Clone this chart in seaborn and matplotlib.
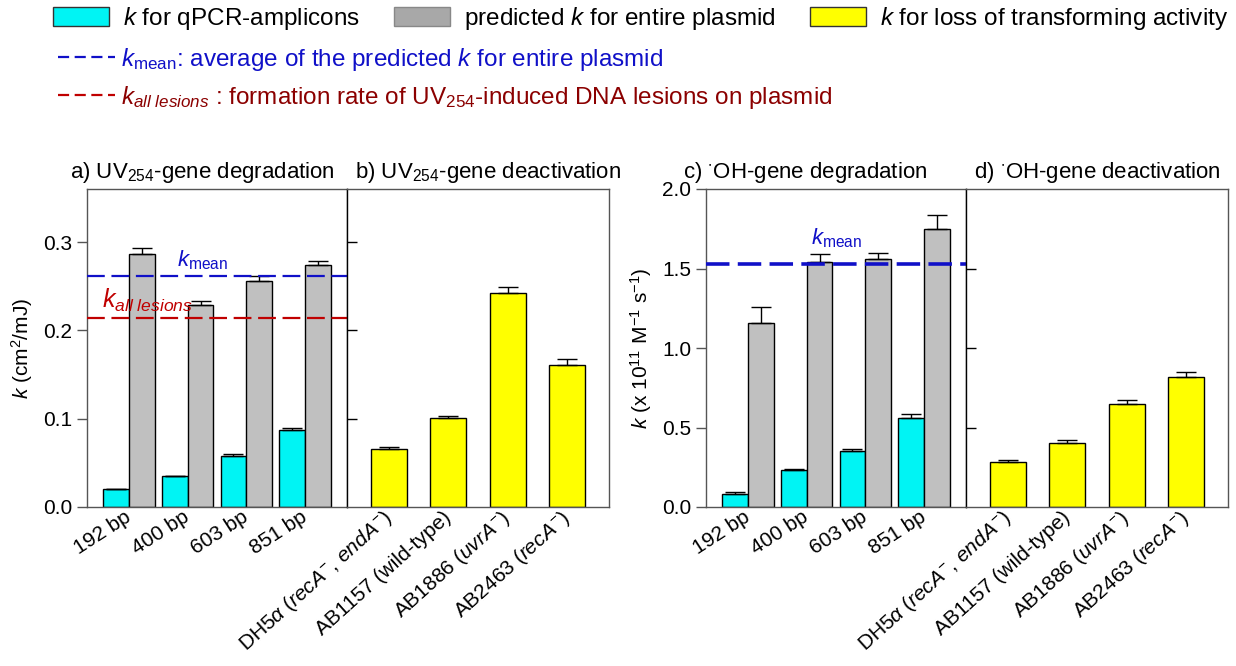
import numpy as np
import pandas as pd
import matplotlib
matplotlib.use("Agg")
import matplotlib.pyplot as plt
from matplotlib.patches import Patch
from matplotlib.lines import Line2D
import seaborn as sns

sns.set_theme(style="ticks")
plt.rcParams['font.family'] = ['Liberation Sans', 'DejaVu Sans']
plt.rcParams['mathtext.fontset'] = 'custom'
plt.rcParams['mathtext.rm'] = 'Liberation Sans'
plt.rcParams['mathtext.it'] = 'Liberation Sans:italic'
plt.rcParams['mathtext.bf'] = 'Liberation Sans:bold'
plt.rcParams['text.color'] = 'black'
plt.rcParams['axes.labelcolor'] = 'black'
plt.rcParams['xtick.color'] = 'black'
plt.rcParams['ytick.color'] = 'black'

# data
amplicons = ["192 bp", "400 bp", "603 bp", "851 bp"]
strains = [r"DH5$\alpha$ ($recA^{-}$, $endA^{-}$)", "AB1157 (wild-type)",
           r"AB1886 ($uvrA^{-}$)", r"AB2463 ($recA^{-}$)"]

# UV254
uv_amp_k = [0.0207, 0.0346, 0.0580, 0.0873]
uv_amp_err = [0.0, 0.0, 0.0015, 0.0017]
uv_plasmid_k = [0.2864, 0.2285, 0.2563, 0.2736]
uv_plasmid_err = [0.0068, 0.0048, 0.0049, 0.0053]
uv_kmean = 0.2616
uv_kall = 0.2145
uv_trans_k = [0.0655, 0.1012, 0.2428, 0.1607]
uv_trans_err = [0.0019, 0.0023, 0.0063, 0.0064]

# OH radical
oh_amp_k = [0.084, 0.234, 0.353, 0.558]
oh_amp_err = [0.010, 0.006, 0.009, 0.027]
oh_plasmid_k = [1.158, 1.542, 1.559, 1.749]
oh_plasmid_err = [0.100, 0.048, 0.040, 0.090]
oh_kmean = 1.526
oh_trans_k = [0.286, 0.405, 0.648, 0.819]
oh_trans_err = [0.007, 0.019, 0.023, 0.027]

CYAN = "#00F4F4"
GRAY = "#C0C0C0"
YELLOW = "#FFFF00"
BLUE = "#1010C8"
RED = "#C00000"
DARKRED = "#8B0000"
FS = 15
LFS = 17.5


def deg_panel(ax, amp, amp_err, plas, plas_err, ymax):
    df = pd.DataFrame({
        "size": amplicons * 2,
        "k": amp + plas,
        "kind": ["amp"] * 4 + ["plas"] * 4,
    })
    sns.barplot(data=df, x="size", y="k", hue="kind", order=amplicons,
                palette={"amp": CYAN, "plas": GRAY}, saturation=1, width=0.88,
                errorbar=None, edgecolor="black", linewidth=1, legend=False, ax=ax)
    for cont, err in zip(ax.containers, [amp_err, plas_err]):
        xs = [b.get_x() + b.get_width() / 2 for b in cont]
        hs = [b.get_height() for b in cont]
        ax.errorbar(xs, hs, yerr=[np.zeros(4), err], fmt="none", ecolor="black",
                    elinewidth=1, capsize=7, capthick=1, zorder=3)
    ax.set_xlim(-0.71, 3.71)
    ax.set_ylim(0, ymax)
    ax.set_xlabel("")
    ax.tick_params(axis="x", length=0, labelsize=FS, pad=6)
    ax.tick_params(axis="y", direction="out", length=7, width=1, labelsize=FS,
                   right=False, color="#555555")
    plt.setp(ax.get_xticklabels(), rotation=33, ha="right", va="center",
             rotation_mode="anchor")


def act_panel(ax, vals, errs, ymax, ticks):
    df = pd.DataFrame({"strain": strains, "k": vals})
    sns.barplot(data=df, x="strain", y="k", color=YELLOW, saturation=1,
                width=0.61, errorbar=None, edgecolor="black", linewidth=1, ax=ax)
    cont = ax.containers[0]
    xs = [b.get_x() + b.get_width() / 2 for b in cont]
    hs = [b.get_height() for b in cont]
    ax.errorbar(xs, hs, yerr=[np.zeros(4), errs], fmt="none", ecolor="black",
                elinewidth=1, capsize=7, capthick=1, zorder=3)
    ax.set_xlim(-0.71, 3.71)
    ax.set_ylim(0, ymax)
    ax.set_yticks(ticks)
    ax.set_xlabel("")
    ax.set_ylabel("")
    ax.tick_params(axis="x", length=0, labelsize=FS, pad=6)
    ax.tick_params(axis="y", direction="in", length=7, width=1, labelleft=False,
                   color="black")
    plt.setp(ax.get_xticklabels(), rotation=42, ha="right", va="center",
             rotation_mode="anchor")


fig = plt.figure(figsize=(12.36, 6.66), dpi=100)
W = 1236
H = 666
bot = (H - 507) / H
hgt = 318 / H
ax_a = fig.add_axes([87 / W, bot, 260 / W, hgt])
ax_b = fig.add_axes([347 / W, bot, 262 / W, hgt])
ax_c = fig.add_axes([706 / W, bot, 260 / W, hgt])
ax_d = fig.add_axes([966 / W, bot, 262 / W, hgt])

deg_panel(ax_a, uv_amp_k, uv_amp_err, uv_plasmid_k, uv_plasmid_err, 0.36)
ax_a.set_yticks([0.0, 0.1, 0.2, 0.3])
ax_a.set_yticklabels(["0.0", "0.1", "0.2", "0.3"])
ax_a.set_ylabel(r"$k$ (cm$^2$/mJ)", fontsize=FS, labelpad=6)
ax_a.axhline(uv_kmean, color=BLUE, lw=1.6, dashes=(8, 3), zorder=4)
ax_a.axhline(uv_kall, color=RED, lw=1.6, dashes=(8, 3), zorder=4)
ax_a.text(0.82, uv_kmean + 0.004, r"$k_{\mathrm{mean}}$", color=BLUE, fontsize=FS + 1,
          va="bottom", ha="left")
ax_a.text(-0.45, uv_kall + 0.004, r"$k_{all\ lesions}$", color=RED, fontsize=FS + 3,
          va="bottom", ha="left")

act_panel(ax_b, uv_trans_k, uv_trans_err, 0.36, [0.1, 0.2, 0.3])

deg_panel(ax_c, oh_amp_k, oh_amp_err, oh_plasmid_k, oh_plasmid_err, 2.0)
ax_c.set_yticks([0.0, 0.5, 1.0, 1.5, 2.0])
ax_c.set_yticklabels(["0.0", "0.5", "1.0", "1.5", "2.0"])
ax_c.set_ylabel(r"$k$ (x 10$^{11}$ M$^{-1}$ s$^{-1}$)", fontsize=FS, labelpad=6)
ax_c.axhline(oh_kmean, color=BLUE, lw=2.6, dashes=(6.5, 2.3), zorder=4)
ax_c.text(1.07, oh_kmean + 0.09, r"$k_{\mathrm{mean}}$", color=BLUE, fontsize=FS + 1,
          va="bottom", ha="left")

act_panel(ax_d, oh_trans_k, oh_trans_err, 2.0, [0.5, 1.0, 1.5])

for ax in [ax_a, ax_b, ax_c, ax_d]:
    for s in ax.spines.values():
        s.set_visible(True)
        s.set_color("#555555")
        s.set_linewidth(1)
ax_b.spines["left"].set_color("black")
ax_d.spines["left"].set_color("black")

titles = [
    (ax_a, -0.065, r"a) UV$_{254}$-gene degradation"),
    (ax_b, 0.03, r"b) UV$_{254}$-gene deactivation"),
    (ax_c, -0.09, r"c) $^{\bullet}$OH-gene degradation"),
    (ax_d, 0.03, r"d) $^{\bullet}$OH-gene deactivation"),
]
for ax, x, t in titles:
    ax.text(x, 1.035, t, transform=ax.transAxes, fontsize=FS + 1, ha="left",
            va="baseline")

# legend
bar_handles = [Patch(facecolor=CYAN, edgecolor="#333333", linewidth=1),
               Patch(facecolor="#A8A8A8", edgecolor="#888888", linewidth=1),
               Patch(facecolor=YELLOW, edgecolor="#333333", linewidth=1)]
bar_labels = [r"$k$ for qPCR-amplicons", r"predicted $k$ for entire plasmid",
              r"$k$ for loss of transforming activity"]
leg1 = fig.legend(bar_handles, bar_labels, ncol=3, loc="upper left",
                  bbox_to_anchor=(53 / W, 1 - 5 / H), frameon=False, fontsize=LFS,
                  handlelength=2.3, handleheight=0.8, handletextpad=0.58,
                  columnspacing=1.4, borderpad=0, borderaxespad=0)

line_handles = [Line2D([], [], color=BLUE, lw=1.6, dashes=(5, 2.5)),
                Line2D([], [], color=RED, lw=1.6, dashes=(5, 2.5))]
line_labels = [r"$k_{\mathrm{mean}}$: average of the predicted $k$ for entire plasmid",
               r"$k_{all\ lesions}$ : formation rate of UV$_{254}$-induced DNA lesions on plasmid"]
leg2 = fig.legend(line_handles, line_labels, loc="upper left",
                  bbox_to_anchor=(58 / W, 1 - 46 / H), frameon=False, fontsize=LFS,
                  handlelength=2.35, handletextpad=0.25, labelspacing=0.45,
                  borderpad=0, borderaxespad=0, labelcolor=[BLUE, DARKRED])

fig.savefig("out.png", dpi=100)
